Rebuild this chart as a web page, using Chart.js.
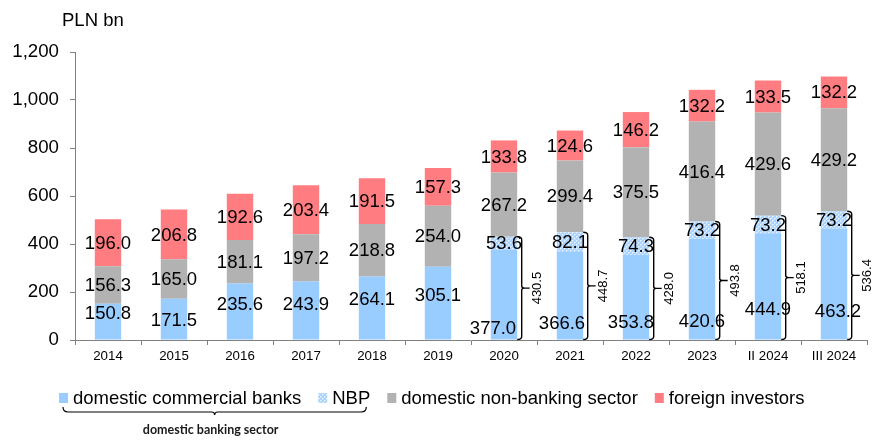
<!DOCTYPE html>
<html>
<head>
<meta charset="utf-8">
<script src="https://cdn.jsdelivr.net/npm/chart.js@4.4.1/dist/chart.umd.min.js"></script>
<style>
  html, body { margin: 0; padding: 0; background: #fff; }
  #wrap { width: 889px; height: 441px; position: relative; }
</style>
</head>
<body>
<div id="wrap"><canvas id="debtChart" width="889" height="441"></canvas></div>
<script>
const categories = ["2014", "2015", "2016", "2017", "2018", "2019", "2020", "2021", "2022", "2023", "II 2024", "III 2024"];
const commercialBanks = [150.8, 171.5, 235.6, 243.9, 264.1, 305.1, 377.0, 366.6, 353.8, 420.6, 444.9, 463.2];
const nbp = [null, null, null, null, null, null, 53.6, 82.1, 74.3, 73.2, 73.2, 73.2];
const nonBanking = [156.3, 165.0, 181.1, 197.2, 218.8, 254.0, 267.2, 299.4, 375.5, 416.4, 429.6, 429.2];
const foreign = [196.0, 206.8, 192.6, 203.4, 191.5, 157.3, 133.8, 124.6, 146.2, 132.2, 133.5, 132.2];
const bankingTotals = [null, null, null, null, null, null, "430.5", "448.7", "428.0", "493.8", "518.1", "536.4"];
const yTicks = [0, 200, 400, 600, 800, 1000, 1200];

const FONT = "Arial, 'Liberation Sans', sans-serif";

// label nudges (pixels) for the commercial-bank figures, as placed in the original
const commercialShiftY = [-9, 1, -8, -7, -9, -8, 33, 27, 25, 32, 23, 27];
const commercialShiftX = [0, 0, 0, 0, 0, 0, -11, -8, -5, 0, 0, 4];

function makeNbpPattern() {
  const c = document.createElement("canvas");
  c.width = 4;
  c.height = 4;
  const g = c.getContext("2d");
  g.fillStyle = "#a9d4ff";
  g.fillRect(0, 0, 4, 4);
  g.fillStyle = "#e6f2ff";
  g.fillRect(0, 0, 1, 1);
  g.fillRect(2, 2, 1, 1);
  g.fillStyle = "#cfe6ff";
  g.fillRect(1, 0, 1, 1);
  g.fillRect(0, 1, 1, 1);
  g.fillRect(3, 2, 1, 1);
  g.fillRect(2, 3, 1, 1);
  return g.createPattern(c, "repeat");
}

const nbpFill = makeNbpPattern();

const valueLabels = {
  id: "valueLabels",
  afterDatasetsDraw(chart) {
    const ctx = chart.ctx;
    ctx.save();
    ctx.fillStyle = "#000";
    ctx.font = "18.5px " + FONT;
    ctx.textAlign = "center";
    ctx.textBaseline = "middle";
    chart.data.datasets.forEach((ds, di) => {
      const meta = chart.getDatasetMeta(di);
      meta.data.forEach((bar, i) => {
        const v = ds.data[i];
        if (v === null || v === undefined) return;
        let x = bar.x;
        let y = (bar.y + bar.base) / 2;
        if (di === 0) {
          x += commercialShiftX[i];
          y += commercialShiftY[i];
        }
        ctx.fillText(v.toFixed(1), x, y + 1);
      });
    });
    ctx.restore();
  },
};

const bankBrackets = {
  id: "bankBrackets",
  afterDatasetsDraw(chart) {
    const ctx = chart.ctx;
    const metaBanks = chart.getDatasetMeta(0);
    const metaNbp = chart.getDatasetMeta(1);
    ctx.save();
    ctx.strokeStyle = "#000";
    ctx.lineWidth = 1.4;
    bankingTotals.forEach((total, i) => {
      if (!total) return;
      const bank = metaBanks.data[i];
      const top = metaNbp.data[i].y;
      const bottom = bank.base;
      const right = bank.x + bank.width / 2;
      const lx = right + 4.5;
      const mid = (top + bottom) / 2;
      ctx.beginPath();
      ctx.moveTo(right, top);
      ctx.quadraticCurveTo(lx, top, lx, top + 3);
      ctx.lineTo(lx, mid - 2);
      ctx.quadraticCurveTo(lx, mid, lx + 3, mid);
      ctx.lineTo(lx + 8, mid);
      ctx.moveTo(lx + 3, mid);
      ctx.quadraticCurveTo(lx, mid, lx, mid + 2);
      ctx.lineTo(lx, bottom - 3);
      ctx.quadraticCurveTo(lx, bottom, right, bottom);
      ctx.stroke();

      ctx.save();
      ctx.translate(right + 20, mid);
      ctx.rotate(-Math.PI / 2);
      ctx.fillStyle = "#000";
      ctx.font = "13px " + FONT;
      ctx.textAlign = "center";
      ctx.textBaseline = "middle";
      ctx.fillText(total, 0, 0);
      ctx.restore();
    });
    ctx.restore();
  },
};

const legendAndNotes = {
  id: "legendAndNotes",
  afterDraw(chart) {
    const ctx = chart.ctx;
    ctx.save();
    // unit title
    ctx.fillStyle = "#000";
    ctx.font = "18.5px " + FONT;
    ctx.textAlign = "left";
    ctx.textBaseline = "alphabetic";
    ctx.fillText("PLN bn", 62, 26);

    // legend
    let x = 59;
    const y = 398;
    const starts = [];
    const ends = [];
    ctx.textBaseline = "middle";
    chart.data.datasets.forEach((ds) => {
      starts.push(x);
      ctx.fillStyle = ds.backgroundColor;
      ctx.fillRect(x, y - 5, 9, 10);
      x += 14;
      ctx.fillStyle = "#000";
      ctx.font = "18.5px " + FONT;
      ctx.fillText(ds.label, x, y + 1);
      const w = ctx.measureText(ds.label).width;
      x += w;
      ends.push(x);
      x += 17;
    });

    // brace under the banking-sector entries
    const bx0 = starts[0] + 4;
    const bx1 = ends[1] - 4;
    const by = 412;
    const bmid = (bx0 + bx1) / 2;
    ctx.strokeStyle = "#000";
    ctx.lineWidth = 1.2;
    ctx.beginPath();
    ctx.moveTo(bx0, by - 5);
    ctx.quadraticCurveTo(bx0, by, bx0 + 5, by);
    ctx.lineTo(bmid - 3, by);
    ctx.quadraticCurveTo(bmid, by, bmid, by + 3);
    ctx.quadraticCurveTo(bmid, by, bmid + 3, by);
    ctx.lineTo(bx1 - 5, by);
    ctx.quadraticCurveTo(bx1, by, bx1, by - 5);
    ctx.stroke();

    ctx.fillStyle = "#1a1a1a";
    ctx.font = "bold 12.5px Lato, 'Open Sans', sans-serif";
    ctx.textAlign = "center";
    ctx.fillText("domestic banking sector", bmid - 4, 430);
    ctx.restore();
  },
};

new Chart(document.getElementById("debtChart"), {
  type: "bar",
  data: {
    labels: categories,
    datasets: [
      { label: "domestic commercial banks", data: commercialBanks, backgroundColor: "#99ccff" },
      { label: "NBP", data: nbp, backgroundColor: nbpFill },
      { label: "domestic non-banking sector", data: nonBanking, backgroundColor: "#b2b2b2" },
      { label: "foreign investors", data: foreign, backgroundColor: "#ff7c80" },
    ],
  },
  options: {
    responsive: false,
    animation: false,
    devicePixelRatio: 1,
    layout: { padding: { left: 0, right: 22, top: 52, bottom: 70 } },
    datasets: {
      bar: { categoryPercentage: 1, barPercentage: 0.4, borderWidth: 0 },
    },
    plugins: {
      legend: { display: false },
      tooltip: { enabled: false },
    },
    scales: {
      x: {
        stacked: true,
        afterFit: (s) => { s.height = 31; },
        grid: { drawOnChartArea: false, drawTicks: true, tickLength: 5, offset: true, color: "#808080" },
        border: { display: true, color: "#808080", width: 1 },
        ticks: { color: "#000", font: { family: FONT, size: 13.3 }, padding: 3, maxRotation: 0 },
      },
      y: {
        stacked: true,
        min: 0,
        max: 1200,
        afterFit: (s) => { s.width = 75; },
        afterBuildTicks: (s) => { s.ticks = yTicks.map((v) => ({ value: v })); },
        grid: { drawOnChartArea: false, drawTicks: true, tickLength: 5, color: "#808080" },
        border: { display: true, color: "#808080", width: 1 },
        ticks: {
          color: "#000",
          font: { family: FONT, size: 18.7 },
          padding: 11,
          callback: (v) => v.toLocaleString("en-US"),
        },
      },
    },
  },
  plugins: [valueLabels, bankBrackets, legendAndNotes],
});
</script>
</body>
</html>
